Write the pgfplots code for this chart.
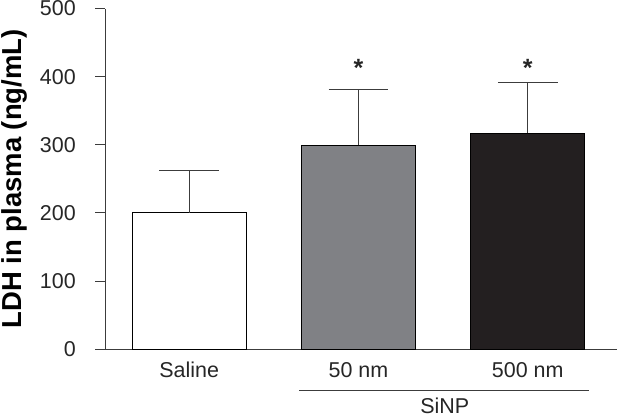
\documentclass[border=0pt]{standalone}
\usepackage{pgfplots}
\pgfplotsset{compat=1.18}
\usepackage{fontspec}
\setmainfont{Liberation Sans}
\definecolor{bargray}{RGB}{128,129,133}
\definecolor{barblack}{RGB}{35,31,32}
\definecolor{linegray}{RGB}{60,60,60}
\begin{document}
\begin{tikzpicture}
\begin{axis}[
  scale only axis,
  width=512pt, height=341pt,
  xmin=-0.496, xmax=2.525,
  ymin=0, ymax=500,
  ytick={0,100,200,300,400,500},
  xtick={0,1,2},
  xticklabels={Saline,50 nm,500 nm},
  axis x line*=bottom,
  axis y line*=left,
  axis line style={linegray, line width=0.9pt},
  x tick style={draw=none},
  y tick style={linegray, line width=0.9pt},
  tick align=outside,
  major tick length=10pt,
  /pgf/number format/assume math mode=true,
  tick label style={font=\fontsize{21.5}{24}\selectfont, text=black!85},
  yticklabel style={xshift=-16pt, inner ysep=1pt},
  xticklabel style={yshift=0.5pt},
  ylabel={LDH in plasma (ng/mL)},
  ylabel style={at={(axis description cs:0,0.5)}, anchor=south, inner sep=1.5pt,
    yshift=76.5pt, font=\bfseries\fontsize{27.5}{30}\selectfont},
  ybar, bar shift=0pt, bar width=114pt,
  clip=false,
  error bars/y dir=plus, error bars/y explicit,
  error bars/error bar style={linegray, line width=0.9pt},
  error bars/error mark options={rotate=90, mark size=30pt, linegray, line width=0.9pt},
]
\addplot[fill=white, draw=black, line width=0.9pt] coordinates {(0,200) +- (0,62)};
\addplot[fill=bargray, draw=black, line width=0.9pt] coordinates {(1,299) +- (0,82)};
\addplot[fill=barblack, draw=black, line width=0.9pt] coordinates {(2,317) +- (0,74)};
\node[font=\bfseries\fontsize{25}{26}\selectfont, text=black!85] at (axis cs:1,413) {*};
\node[font=\bfseries\fontsize{25}{26}\selectfont, text=black!85] at (axis cs:2,413) {*};
\draw[linegray, line width=0.9pt] (axis cs:0.649,-60) -- (axis cs:2.36,-60);
\node[anchor=north, inner sep=1pt, text depth=5pt, font=\fontsize{21.5}{24}\selectfont, text=black!85] at (axis cs:1.51,-70) {SiNP};
\end{axis}
\end{tikzpicture}
\end{document}
